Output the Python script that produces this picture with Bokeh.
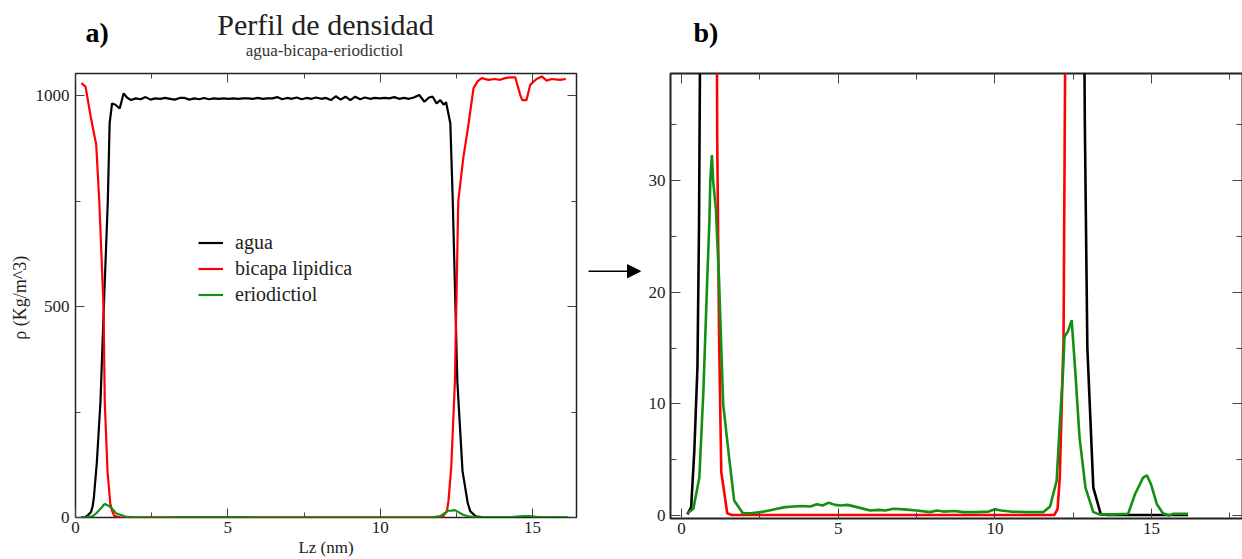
from bokeh.plotting import figure
from bokeh.layouts import row, column
from bokeh.models import (Range1d, LinearAxis, SingleIntervalTicker, Legend, LegendItem,
                          Label, Arrow, NormalHead, CustomLabelingPolicy)
from bokeh.embed import file_html
from bokeh.resources import INLINE

# ---------------- data ----------------
series_names = ["agua", "bicapa lipidica", "eriodictiol"]

x_agua = [0.19, 0.31, 0.41, 0.51, 0.56, 0.60, 0.70, 0.82, 0.93, 1.06, 1.12, 1.20, 1.31, 1.45,
          1.58, 1.69, 1.82, 1.98, 2.14, 2.30, 2.46, 2.62, 2.78, 2.94, 3.10, 3.26, 3.42, 3.58,
          3.74, 3.90, 4.06, 4.22, 4.38, 4.54, 4.70, 4.86, 5.02, 5.18, 5.34, 5.50, 5.66, 5.82,
          5.98, 6.14, 6.30, 6.46, 6.62, 6.78, 6.94, 7.10, 7.26, 7.42, 7.58, 7.74, 7.90, 8.06,
          8.22, 8.38, 8.54, 8.70, 8.86, 9.02, 9.18, 9.34, 9.50, 9.66, 9.82, 9.98, 10.14, 10.30,
          10.46, 10.62, 10.78, 10.94, 11.10, 11.28, 11.45, 11.60, 11.72, 11.85, 11.97, 12.08,
          12.16, 12.30, 12.38, 12.53, 12.70, 12.87, 12.95, 13.14, 13.38, 13.60, 14.50, 15.50, 16.16]
y_agua = [0.1, 0.75, 5.8, 13.3, 26, 45, 130, 275, 500, 750, 935, 982, 979, 970,
          1006, 996, 990, 994, 992, 997, 991, 994, 993, 995, 993, 991, 995, 995,
          991, 994, 992, 995, 992, 994, 993, 994, 993, 994, 993, 994, 994, 993,
          995, 993, 994, 994, 997, 992, 995, 993, 996, 992, 995, 993, 996, 993,
          995, 990, 999, 991, 998, 990, 998, 992, 996, 993, 995, 994, 995, 994,
          997, 993, 995, 993, 996, 1002, 986, 996, 998, 982, 990, 979,
          985, 935, 750, 322, 110, 35, 15, 2.5, 0.1, 0.05, 0.05, 0.05, 0.05]

x_bicapa = [0.19, 0.33, 0.50, 0.68, 0.78, 0.92, 0.96, 1.05, 1.14, 1.20, 1.27, 1.46, 1.60,
            11.90, 12.00, 12.07, 12.13, 12.19, 12.24, 12.33, 12.45, 12.56, 12.72, 12.90, 13.06,
            13.20, 13.33, 13.55, 13.75, 13.93, 14.10, 14.26, 14.43, 14.59, 14.66, 14.80, 14.92,
            15.13, 15.30, 15.46, 15.63, 15.90, 16.09]
y_bicapa = [1030, 1022, 950, 884, 750, 500, 275, 110, 34, 16, 3.9, 0.2, 0.05,
            0.05, 0.6, 3.4, 9.7, 15.7, 40, 120, 322, 750, 850, 935, 1018,
            1035, 1042, 1038, 1040, 1038, 1042, 1044, 1044, 1003, 990, 990, 1026,
            1040, 1046, 1036, 1040, 1038, 1040]

x_erio = [0.19, 0.38, 0.57, 0.70, 0.82, 0.89, 0.92, 0.97, 1.01, 1.10, 1.20, 1.33, 1.52, 1.68,
          1.96, 2.20, 2.52, 2.80, 3.05, 3.30, 3.58, 3.85, 4.11, 4.32, 4.50, 4.70, 4.90, 5.07,
          5.30, 5.60, 6.02, 6.30, 6.50, 6.77, 7.10, 7.50, 7.93, 8.15, 8.36, 8.70, 9.00, 9.42,
          9.80, 10.00, 10.20, 10.50, 11.00, 11.54, 11.76, 11.86, 11.97, 12.07, 12.17, 12.22,
          12.33, 12.45, 12.57, 12.70, 12.89, 13.14, 13.33, 13.80, 14.25, 14.47, 14.73, 14.85,
          14.98, 15.17, 15.36, 15.55, 15.70, 16.16]
y_erio = [0.2, 0.6, 3.4, 11.2, 21.0, 26.3, 30.0, 32.3, 30.0, 27.4, 21.0, 10.0, 5.2, 1.35,
          0.2, 0.2, 0.3, 0.45, 0.6, 0.75, 0.8, 0.85, 0.8, 1.0, 0.9, 1.15, 0.95, 0.9,
          0.95, 0.75, 0.45, 0.5, 0.45, 0.6, 0.55, 0.45, 0.3, 0.45, 0.35, 0.4, 0.3, 0.3,
          0.35, 0.55, 0.45, 0.35, 0.3, 0.3, 0.8, 1.9, 3.1, 8.2, 12.7, 16.0,
          16.5, 17.5, 12.7, 7.0, 2.5, 0.3, 0.1, 0.1, 0.15, 1.9, 3.4, 3.6,
          2.8, 1.0, 0.2, 0.0, 0.15, 0.15]

colors = ["#000000", "#ff0000", "#139013"]

# axis ranges
a_xrange = (0, 16.44)
a_yrange = (0, 1053)
b_xrange = (-0.35, 17.9)
b_yrange = (-0.27, 39.6)

FONT = "Liberation Serif"
TOP_H = 66
PANEL_H = 493

hide_labels = CustomLabelingPolicy(code="return []")


def style_axis(ax, interval, labels, major_in, minor_in, standoff=4, color="#444444"):
    ax.ticker = SingleIntervalTicker(interval=interval, num_minor_ticks=2)
    ax.major_tick_in = major_in
    ax.major_tick_out = 0
    ax.minor_tick_in = minor_in
    ax.minor_tick_out = 0
    ax.axis_line_color = None
    ax.major_tick_line_color = color
    ax.minor_tick_line_color = color
    ax.major_tick_line_width = 1
    ax.minor_tick_line_width = 1
    ax.major_label_text_font = FONT
    ax.major_label_text_color = "#222222"
    ax.axis_label_text_font = FONT
    ax.axis_label_text_font_style = "normal"
    ax.axis_label_text_color = "#222222"
    if labels:
        ax.major_label_text_font_size = "17px"
        ax.major_label_standoff = standoff
    else:
        ax.major_label_text_font_size = "0px"
        ax.major_label_standoff = 0
        ax.axis_label_standoff = 0
        ax.major_label_policy = hide_labels


def make_panel(fw, fh, xr, yr, borders, xint, yint, lw, mi, mn, ystandoff):
    p = figure(frame_width=fw, frame_height=fh, output_backend="svg", toolbar_location=None,
               title=None, x_range=Range1d(*xr), y_range=Range1d(*yr), x_axis_location=None,
               y_axis_location=None, min_border_left=borders[0], min_border_right=borders[1],
               min_border_top=borders[2], min_border_bottom=borders[3])
    p.grid.visible = False
    p.outline_line_color = "#222222"
    p.outline_line_width = lw
    bottom = LinearAxis()
    left = LinearAxis()
    top = LinearAxis(fixed_location=yr[1])
    right = LinearAxis(fixed_location=xr[1])
    style_axis(bottom, xint, True, mi, mn, standoff=4)
    style_axis(left, yint, True, mi, mn, standoff=ystandoff)
    style_axis(top, xint, False, mi, mn)
    style_axis(right, yint, False, mi, mn)
    p.add_layout(bottom, "below")
    p.add_layout(left, "left")
    p.add_layout(top, "above")
    p.add_layout(right, "right")
    return p, bottom, left


# ---------------- header (titles) ----------------
head = figure(width=1242, height=TOP_H, output_backend="svg", toolbar_location=None, title=None,
              x_range=Range1d(0, 1242), y_range=Range1d(TOP_H, 0), min_border=0,
              x_axis_location=None, y_axis_location=None)
head.grid.visible = False
head.outline_line_color = None
head.add_layout(Label(x=325, y=24, text="Perfil de densidad", text_align="center",
                      text_baseline="alphabetic", text_font=FONT, text_font_size="30px",
                      text_color="#222222"))
head.add_layout(Label(x=324, y=50, text="agua-bicapa-eriodictiol", text_align="center",
                      text_baseline="alphabetic", text_font=FONT, text_font_size="17px",
                      text_color="#333333"))
head.add_layout(Label(x=85, y=32, text="a)", text_align="left", text_baseline="alphabetic",
                      text_font=FONT, text_font_size="28px", text_font_style="bold",
                      text_color="#000000"))
head.add_layout(Label(x=693, y=32, text="b)", text_align="left", text_baseline="alphabetic",
                      text_font=FONT, text_font_size="28px", text_font_style="bold",
                      text_color="#000000"))

# ---------------- panel a ----------------
pa, a_bottom, a_left = make_panel(501, 444, a_xrange, a_yrange, (75, 9, 6, 43), 5, 500,
                                  1.5, 9, 5, 6)
a_bottom.axis_label = "Lz (nm)"
a_bottom.axis_label_text_font_size = "17px"
a_bottom.axis_label_standoff = 2
a_left.axis_label = "\u03c1  (Kg/m^3)"
a_left.axis_label_text_font_size = "18px"
a_left.axis_label_standoff = 3

xs = [x_agua, x_bicapa, x_erio]
ys = [y_agua, y_bicapa, y_erio]
rends = []
for xv, yv, c in zip(xs, ys, colors):
    rends.append(pa.line(xv, yv, line_color=c, line_width=2.2))

legend = Legend(items=[LegendItem(label=n, renderers=[r]) for n, r in zip(series_names, rends)],
                location=(123, 210), border_line_color=None, background_fill_alpha=0,
                label_text_font=FONT, label_text_font_size="20px", label_text_color="#222222",
                glyph_width=25, glyph_height=25, label_height=25, label_standoff=12,
                spacing=1, padding=0, margin=0)
pa.add_layout(legend)

# ---------------- arrow panel ----------------
ARR_W = 60
parr = figure(width=ARR_W, height=PANEL_H, output_backend="svg", toolbar_location=None,
              title=None, x_range=Range1d(0, ARR_W), y_range=Range1d(PANEL_H, 0), min_border=0,
              x_axis_location=None, y_axis_location=None)
parr.grid.visible = False
parr.outline_line_color = None
parr.add_layout(Arrow(x_start=3, y_start=220, x_end=55, y_end=220, line_width=1.5,
                      line_color="black",
                      end=NormalHead(size=13, fill_color="black", line_color="black")))

# ---------------- panel b ----------------
pb, b_bottom, b_left = make_panel(572, 445, b_xrange, b_yrange, (22, 3, 7, 41), 5, 10,
                                  2, 10, 6, 5)
for xv, yv, c in zip(xs, ys, colors):
    pb.line(xv, yv, line_color=c, line_width=2.6)

layout = column(head, row(pa, parr, pb, spacing=0), spacing=0)
open("out.html", "w").write(file_html(layout, INLINE))
